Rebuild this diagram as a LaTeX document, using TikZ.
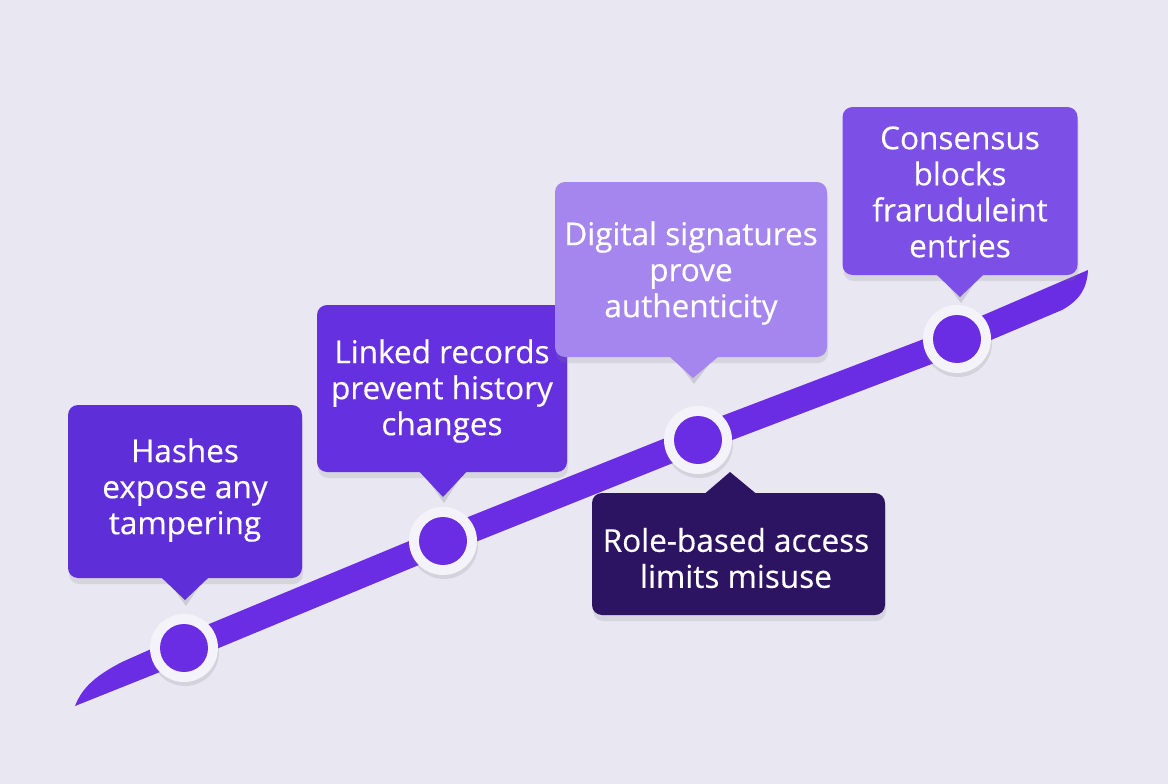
\documentclass[tikz,border=0pt]{standalone}
\usepackage{fontspec}
\setmainfont{Open Sans}
\newfontfamily\lblfont{Open Sans}[FakeBold=0.35]
\usetikzlibrary{calc,shadows}
\definecolor{bg}{HTML}{E9E7F2}
\definecolor{band}{HTML}{6A2DE4}
\definecolor{ring}{HTML}{F4F3F9}
\definecolor{cA}{HTML}{5E2FD8}
\definecolor{cB}{HTML}{6531E0}
\definecolor{cC}{HTML}{A586EE}
\definecolor{cD}{HTML}{2D1463}
\definecolor{cE}{HTML}{7C4FE7}
\tikzset{
  box/.style={rounded corners=10pt, inner sep=0pt,
    drop shadow={opacity=0.18, shadow xshift=1pt, shadow yshift=-6pt}},
  lbl/.style={font=\lblfont\fontsize{31.5}{36}\selectfont, text=white, align=center},
  ringnode/.style={circle, fill=ring, minimum size=68pt, inner sep=0pt,
    drop shadow={opacity=0.2, shadow xshift=1pt, shadow yshift=-4pt}},
  dotnode/.style={circle, fill=band, minimum size=48pt, inner sep=0pt},
}
\begin{document}
\begin{tikzpicture}[x=1pt,y=-1pt]
\fill[bg] (0,0) rectangle (1168,784);
\useasboundingbox (0,0) rectangle (1168,784);
% band
\fill[band] (75,706) .. controls (82,688) and (95,676) .. (122,662)
  -- (185,634) -- (443,527) -- (698,425) -- (958,326) -- (1088,270)
  .. controls (1087,288) and (1080,300) .. (1062,310)
  -- (958,354) -- (698,453) -- (443,555) -- (185,662) -- cycle;
% callout pointer shadows
\fill[black,opacity=0.12] (160,570) -- (186,606) -- (210,570) -- cycle;
\fill[black,opacity=0.12] (418,466) -- (444,503) -- (468,466) -- cycle;
\fill[black,opacity=0.12] (668,350) -- (694,384) -- (720,350) -- cycle;
\fill[black,opacity=0.12] (935,268) -- (961,303) -- (985,268) -- cycle;
% nodes on band
\node[ringnode] (r1) at (184,648) {};
\node[dotnode] (d1) at (r1) {};
\node[ringnode] (r2) at (443,541) {};
\node[dotnode] (d2) at (r2) {};
\node[ringnode] (r3) at (698,440) {};
\node[dotnode] (d3) at (r3) {};
\node[ringnode] (r4) at (957,339) {};
\node[dotnode] (d4) at (r4) {};
% callout boxes
\node[box, fill=cA, minimum width=234pt, minimum height=173pt] (b1) at (185,491.5) {};
\node[lbl] (t1) at (185,490) {Hashes\\expose any\\tampering};
\fill[cA] ($(b1.south)+(-25,-2)$) -- (185,600) -- ($(b1.south)+(25,-2)$) -- cycle;

\node[box, fill=cB, minimum width=250pt, minimum height=167pt] (b2) at (442,388.5) {};
\node[lbl] (t2) at (442,391) {Linked records\\prevent history\\changes};
\fill[cB] ($(b2.south)+(-24,-2)$) -- (443,497) -- ($(b2.south)+(26,-2)$) -- cycle;

\node[box, fill=cC, minimum width=272pt, minimum height=175pt] (b3) at (691,269.5) {};
\node[lbl] (t3) at (691,273) {Digital signatures\\prove\\authenticity};
\fill[cC] ($(b3.south)+(-23,-2)$) -- (693,378) -- ($(b3.south)+(29,-2)$) -- cycle;

\node[box, fill=cE, minimum width=235pt, minimum height=168pt] (b5) at (960,191) {};
\node[lbl] (t5) at (960,192) {Consensus\\blocks\\fraruduleint\\entries};
\fill[cE] ($(b5.south)+(-25,-2)$) -- (960,297) -- ($(b5.south)+(25,-2)$) -- cycle;

\node[box, fill=cD, minimum width=293pt, minimum height=122pt] (b4) at (738.5,554) {};
\node[lbl] (t4) at (736,558) {Role-based access\\limits misuse};
\fill[cD] ($(b4.north)+(-35,2)$) -- (730,472) -- ($(b4.north)+(19,2)$) -- cycle;
\end{tikzpicture}
\end{document}
